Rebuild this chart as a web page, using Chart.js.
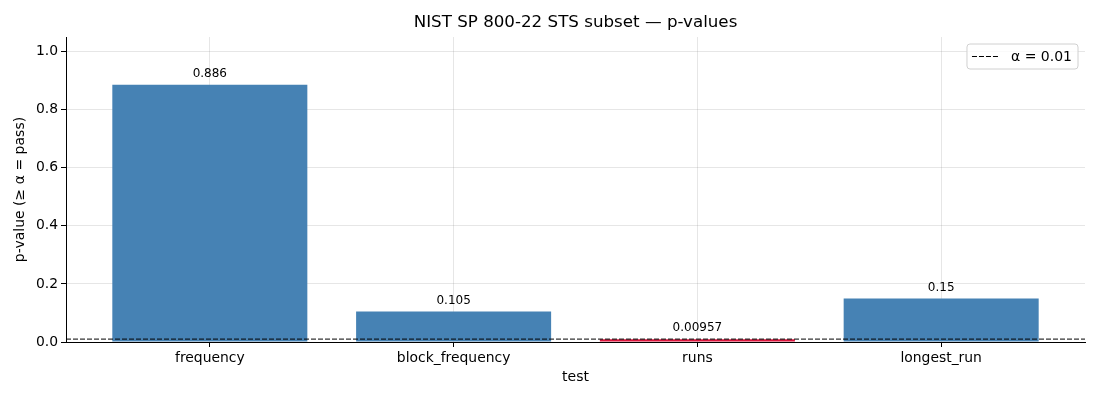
<!DOCTYPE html>
<html>
<head>
<meta charset="utf-8">
<script src="https://cdn.jsdelivr.net/npm/chart.js@4"></script>
<style>
html,body{margin:0;padding:0;background:#fff;}
#c{display:block;}
</style>
</head>
<body>
<canvas id="c" width="1100" height="400"></canvas>
<script>
const categories = ['frequency', 'block_frequency', 'runs', 'longest_run'];
const pValues = [0.886, 0.105, 0.00957, 0.15];
const valueLabels = ['0.886', '0.105', '0.00957', '0.15'];
const alpha = 0.01;
const alphaLabel = 'α = 0.01';
const titleText = 'NIST SP 800-22 STS subset — p-values';
const yTickValues = [0, 0.2, 0.4, 0.6, 0.8, 1.0];
const xMin = -0.59, xMax = 3.59, yMax = 1.05;

const PASS = '#4682B4', FAIL = '#DC143C';
const FONT = "'DejaVu Sans', sans-serif";

const axesTitle = {
  id: 'axesTitle',
  afterDraw(chart) {
    const ctx = chart.ctx, a = chart.chartArea;
    ctx.save();
    ctx.font = '16.7px ' + FONT;
    ctx.fillStyle = '#000';
    ctx.textAlign = 'center';
    ctx.textBaseline = 'middle';
    ctx.fillText(titleText, (a.left + a.right) / 2, 23);
    ctx.restore();
  }
};

const barLabels = {
  id: 'barLabels',
  afterDatasetsDraw(chart) {
    const meta = chart.getDatasetMeta(0);
    const ctx = chart.ctx;
    ctx.save();
    ctx.font = '12px ' + FONT;
    ctx.fillStyle = '#000';
    ctx.textAlign = 'center';
    ctx.textBaseline = 'bottom';
    meta.data.forEach((el, i) => {
      ctx.fillText(valueLabels[i], el.x, el.y - 5);
    });
    ctx.restore();
  }
};

const boxLegend = {
  id: 'boxLegend',
  afterDraw(chart) {
    const ctx = chart.ctx, a = chart.chartArea;
    const ds = chart.data.datasets[1];
    ctx.save();
    ctx.font = '14px ' + FONT;
    const tw = ctx.measureText(ds.label).width;
    const w = 5 + 28 + 11 + tw + 6, h = 25;
    const x = a.right - 7 - w, y = a.top + 7;
    ctx.beginPath();
    ctx.roundRect(x, y, w, h, 3);
    ctx.fillStyle = 'rgba(255,255,255,0.8)';
    ctx.fill();
    ctx.strokeStyle = '#d0d0d0';
    ctx.lineWidth = 1;
    ctx.stroke();
    ctx.beginPath();
    ctx.setLineDash([5, 2]);
    ctx.strokeStyle = '#000';
    ctx.moveTo(x + 5, y + h / 2);
    ctx.lineTo(x + 33, y + h / 2);
    ctx.stroke();
    ctx.setLineDash([]);
    ctx.fillStyle = '#000';
    ctx.textBaseline = 'middle';
    ctx.fillText(ds.label, x + 44, y + h / 2 + 1);
    ctx.restore();
  }
};

new Chart(document.getElementById('c'), {
  type: 'bar',
  data: {
    datasets: [
      {
        type: 'bar',
        data: pValues.map((v, i) => ({ x: i, y: v })),
        backgroundColor: pValues.map(v => v < alpha ? FAIL : PASS),
        barPercentage: 0.8,
        categoryPercentage: 1.0,
        order: 2
      },
      {
        type: 'line',
        label: alphaLabel,
        data: [{ x: xMin, y: alpha }, { x: xMax, y: alpha }],
        borderColor: '#000',
        borderWidth: 1,
        borderDash: [5, 2],
        pointRadius: 0,
        fill: false,
        order: 1
      }
    ]
  },
  options: {
    responsive: false,
    animation: false,
    layout: { padding: { left: 0, right: 15, top: 37, bottom: 0 } },
    plugins: {
      legend: { display: false },
      tooltip: { enabled: false },
      title: { display: false }
    },
    scales: {
      x: {
        type: 'linear',
        min: xMin,
        max: xMax,
        offset: false,
        z: 1,
        afterBuildTicks: s => { s.ticks = categories.map((c, i) => ({ value: i })); },
        afterFit: s => { s.height = 58; },
        ticks: {
          includeBounds: false,
          stepSize: 1,
          autoSkip: false,
          maxRotation: 0,
          padding: 3,
          color: '#000',
          font: { family: FONT, size: 13.9 },
          callback: v => categories[v]
        },
        grid: { offset: false, color: 'rgba(128,128,128,0.2)', tickColor: '#000', tickLength: 5, lineWidth: 1 },
        border: { color: '#000', width: 1 },
        title: {
          display: true, text: 'test', color: '#000',
          font: { family: FONT, size: 14 },
          padding: { top: 0, bottom: 14 }
        }
      },
      y: {
        min: 0,
        max: yMax,
        z: 1,
        afterBuildTicks: s => { s.ticks = yTickValues.map(v => ({ value: v })); },
        afterFit: s => { s.width = 66; },
        ticks: {
          includeBounds: false,
          stepSize: 0.2,
          padding: 3,
          color: '#000',
          font: { family: FONT, size: 13.9 },
          callback: v => Number(v).toFixed(1)
        },
        grid: { color: 'rgba(128,128,128,0.2)', tickColor: '#000', tickLength: 5, lineWidth: 1 },
        border: { color: '#000', width: 1 },
        title: {
          display: true, text: 'p-value (≥ α = pass)', color: '#000',
          font: { family: FONT, size: 14 },
          padding: { top: 12, bottom: 0 }
        }
      }
    }
  },
  plugins: [axesTitle, barLabels, boxLegend]
});
</script>
</body>
</html>
